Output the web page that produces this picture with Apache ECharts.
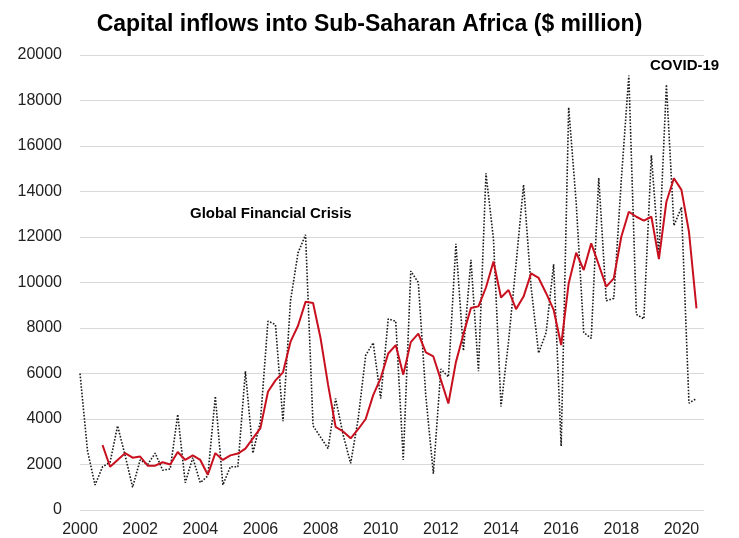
<!DOCTYPE html>
<html>
<head>
<meta charset="utf-8">
<script src="https://cdn.jsdelivr.net/npm/echarts@6/dist/echarts.min.js"></script>
<style>
  html, body { margin: 0; padding: 0; background: #fff; }
  #chart { width: 739px; height: 538px; }
</style>
</head>
<body>
<div id="chart"></div>
<script>
// Quarterly capital inflows into Sub-Saharan Africa, $ million, 2000Q1 onwards
const startYear = 2000;
const quarterCount = 84; // 2000Q1 .. 2020Q4

const quarterlyInflows = [
  6000, 2600, 1100, 1900, 2100, 3700, 2400, 1000,
  2200, 2000, 2500, 1750, 1800, 4200, 1200, 2300,
  1200, 1500, 5000, 1100, 1900, 1900, 6100, 2500,
  3900, 8300, 8150, 3900, 9200, 11300, 12100, 3700,
  3200, 2700, 4900, 3300, 2050, 4000, 6800, 7350,
  4900, 8400, 8300, 2200, 10500, 10000, 5000, 1600,
  6200, 5850, 11700, 7000, 11000, 6100, 14800, 11900,
  4550, 7400, 10800, 14300, 9800, 6900, 7800, 10800,
  2800, 17700, 13500, 7800, 7550, 14600, 9200, 9300,
  14500, 19100, 8600, 8400, 15600, 11200, 18700, 12500,
  13300, 4700, 4900
];

// Four-quarter moving average (first value at 2000Q4)
const movingAverage = [
  null, null, null,
  2850, 1900, 2200, 2500, 2300, 2350, 1950, 1950,
  2100, 2000, 2550, 2200, 2400, 2200, 1550, 2500,
  2200, 2400, 2480, 2700, 3150, 3600, 5200, 5700,
  6050, 7400, 8100, 9150, 9100, 7550, 5500, 3650,
  3450, 3150, 3550, 4000, 5050, 5800, 6880, 7250,
  5950, 7380, 7750, 6930, 6750, 5720, 4680, 6500,
  7730, 8880, 8950, 9780, 10920, 9340, 9670, 8830,
  9380, 10400, 10200, 9530, 8800, 7250, 9960, 11310,
  10550, 11720, 10780, 9820, 10180, 12010, 13110, 12890,
  12720, 12890, 11030, 13550, 14580, 14070, 12230, 8860
];

const yTicks = { min: 0, max: 20000, step: 2000 };

const quarters = [];
for (let i = 0; i < quarterCount; i++) {
  quarters.push((startYear + Math.floor(i / 4)) + 'Q' + (i % 4 + 1));
}

const chart = echarts.init(document.getElementById('chart'));
const font = '"Liberation Sans", Arial, sans-serif';

chart.setOption({
  animation: false,
  backgroundColor: '#ffffff',
  title: {
    text: 'Capital inflows into Sub-Saharan Africa ($ million)',
    left: 'center',
    top: 8,
    textStyle: { fontFamily: font, fontSize: 23, fontWeight: 'bold', color: '#000' }
  },
  grid: { left: 80, right: 35, top: 55, bottom: 28 },
  xAxis: {
    type: 'category',
    data: quarters,
    boundaryGap: false,
    axisLine: { show: false },
    axisTick: { show: false },
    splitLine: { show: false },
    axisLabel: {
      interval: 7,
      margin: 12,
      fontFamily: font,
      fontSize: 16,
      color: '#222',
      formatter: v => v.slice(0, 4)
    }
  },
  yAxis: {
    type: 'value',
    min: yTicks.min,
    max: yTicks.max,
    interval: yTicks.step,
    axisLine: { show: false },
    axisTick: { show: false },
    splitLine: { lineStyle: { color: '#d9d9d9', width: 1 } },
    axisLabel: {
      margin: 18,
      fontFamily: font,
      fontSize: 16,
      color: '#222',
      formatter: v => String(v)
    }
  },
  series: [
    {
      name: 'Quarterly inflows',
      type: 'line',
      data: quarterlyInflows,
      symbol: 'none',
      lineStyle: { color: '#1a1a1a', width: 1.6, type: [1.6, 1.6] },
      z: 2
    },
    {
      name: '4-quarter average',
      type: 'line',
      data: movingAverage,
      symbol: 'none',
      lineStyle: { color: '#c8101e', width: 2 },
      z: 3
    }
  ],
  graphic: [
    {
      type: 'text',
      left: 190,
      top: 206,
      style: { text: 'Global Financial Crisis', font: 'bold 15px ' + font, fill: '#000' }
    },
    {
      type: 'text',
      left: 650,
      top: 58,
      style: { text: 'COVID-19', font: 'bold 15px ' + font, fill: '#000' }
    }
  ]
});
</script>
</body>
</html>
